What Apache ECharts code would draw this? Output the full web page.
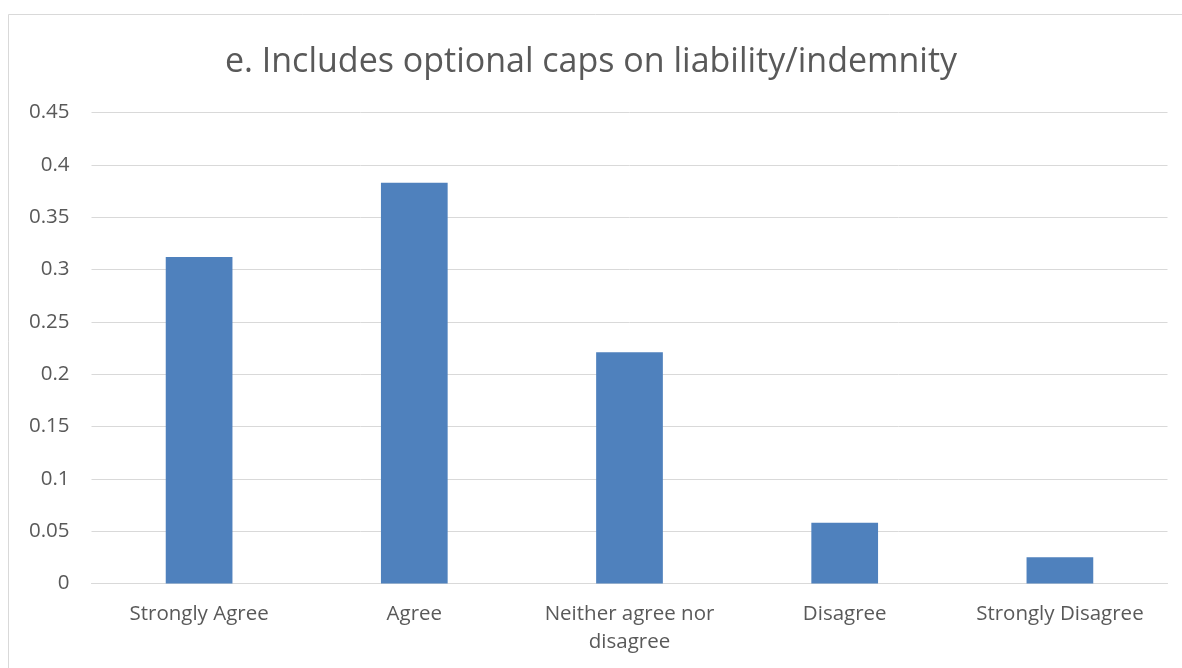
<!DOCTYPE html>
<html>
<head>
<meta charset="utf-8">
<script src="https://cdn.jsdelivr.net/npm/echarts@6/dist/echarts.min.js"></script>
<style>
  html, body { margin: 0; padding: 0; background: #ffffff; }
  #chart { width: 1182px; height: 668px; }
</style>
</head>
<body>
<div id="chart"></div>
<script>
// Survey responses (share of respondents)
const chartTitle = 'e. Includes optional caps on liability/indemnity';
const categories = ['Strongly Agree', 'Agree', 'Neither agree nor\ndisagree', 'Disagree', 'Strongly Disagree'];
const shares = [0.312, 0.383, 0.221, 0.058, 0.025];
const yTicks = { min: 0, max: 0.45, interval: 0.05 };

const textColor = '#595959';
const gridColor = '#d9d9d9';
const barColor = '#4f81bd';
const fontFamily = '"Open Sans", "Noto Sans", "Liberation Sans", sans-serif';

const chart = echarts.init(document.getElementById('chart'), null, { renderer: 'canvas' });

chart.setOption({
  backgroundColor: '#ffffff',
  animation: false,
  title: {
    text: chartTitle,
    left: 'center',
    top: 40,
    textStyle: {
      color: textColor,
      fontFamily: fontFamily,
      fontWeight: 'normal',
      fontSize: 34
    }
  },
  graphic: [{
    type: 'rect',
    silent: true,
    shape: { x: 8.5, y: 14.5, width: 1200, height: 700 },
    style: { fill: 'none', stroke: gridColor, lineWidth: 1 }
  }],
  grid: {
    left: 91.5,
    right: 14.5,
    top: 112.5,
    bottom: 84.5,
    containLabel: false
  },
  xAxis: {
    type: 'category',
    data: categories,
    axisLine: { show: true, lineStyle: { color: gridColor, width: 1 } },
    axisTick: { show: false },
    axisLabel: {
      color: textColor,
      fontFamily: fontFamily,
      fontSize: 20.5,
      margin: 17,
      lineHeight: 28,
      interval: 0
    }
  },
  yAxis: {
    type: 'value',
    min: yTicks.min,
    max: yTicks.max,
    interval: yTicks.interval,
    axisLine: { show: false },
    axisTick: { show: false },
    splitLine: { show: true, lineStyle: { color: gridColor, width: 1 } },
    axisLabel: {
      color: textColor,
      fontFamily: fontFamily,
      fontSize: 20.5,
      margin: 22,
      formatter: function (v) { return String(parseFloat(v.toFixed(2))); }
    }
  },
  series: [{
    type: 'bar',
    data: shares,
    barWidth: '31%',
    itemStyle: { color: barColor },
    label: { show: false }
  }]
});
</script>
</body>
</html>
